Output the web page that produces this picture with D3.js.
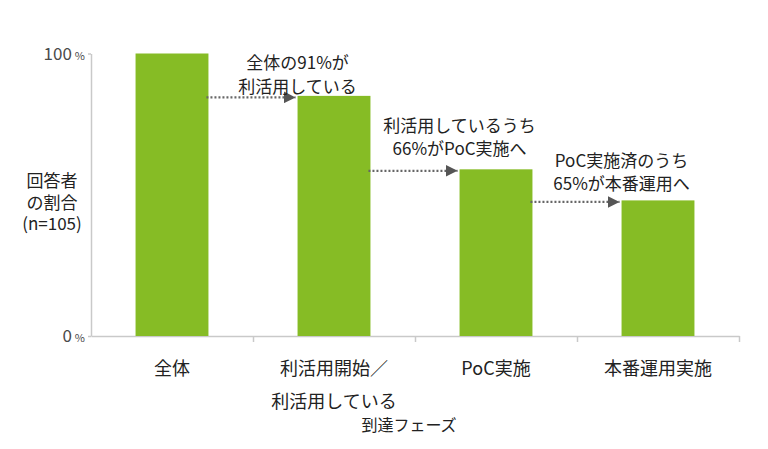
<!DOCTYPE html>
<html>
<head>
<meta charset="utf-8">
<script src="https://cdn.jsdelivr.net/npm/d3@7"></script>
<style>
  body { margin: 0; background: #fff; }
  text { font-family: "Noto Sans CJK JP", "Noto Sans", sans-serif; }
</style>
</head>
<body>
<div id="chart"></div>
<script>
// chart data (bar heights as drawn in the original)
const categories = ["全体", "利活用開始／\n利活用している", "PoC実施", "本番運用実施"];
const shares = [100, 85, 59, 48];
const yTicks = [0, 100];
const notes = [
  ["全体の91%が", "利活用している"],
  ["利活用しているうち", "66%がPoC実施へ"],
  ["PoC実施済のうち", "65%が本番運用へ"]
];
const yTitle = ["回答者", "の割合", "(n=105)"];
const xTitle = "到達フェーズ";

const W = 768, H = 449;
const green = "#86bc25";

const svg = d3.select("#chart").append("svg").attr("width", W).attr("height", H);

const x = d3.scaleBand().domain(categories).range([91, 739]).paddingInner(0).paddingOuter(0);
const xEdge = d3.scaleLinear().domain([0, categories.length]).range([91, 739]);
const y = d3.scaleLinear().domain([0, 100]).range([336, 53.5]);

const barW = x.bandwidth() * 0.45;
const barX = d => x(d) + (x.bandwidth() - barW) / 2;

// x axis: ticks at category boundaries
const gx = svg.append("g").attr("transform", `translate(0,${y(0)})`)
  .call(d3.axisBottom(xEdge).ticks(categories.length).tickSize(6).tickSizeOuter(0).tickFormat(""));
gx.select(".domain").attr("stroke", "#c9c9c9").attr("stroke-width", 1.5);
gx.selectAll(".tick line").attr("stroke", "#c9c9c9").attr("stroke-width", 1.5);
gx.selectAll(".tick").filter(d => d === 0).remove();

// y axis
const gy = svg.append("g").attr("transform", `translate(${xEdge(0)},0)`)
  .call(d3.axisLeft(y).tickValues(yTicks).tickSize(3).tickSizeOuter(0).tickPadding(3));
gy.select(".domain").attr("stroke", "#c9c9c9").attr("stroke-width", 1.5);
gy.selectAll(".tick line").attr("stroke", "#c9c9c9").attr("stroke-width", 1.5);
gy.selectAll(".tick text")
  .attr("font-size", 17).attr("fill", "#4a4a4a").attr("dy", "0.35em")
  .append("tspan").attr("font-size", 11).attr("dx", 3).text("%");

// bars
svg.selectAll("rect.bar").data(categories).enter().append("rect")
  .attr("class", "bar")
  .attr("x", d => barX(d))
  .attr("y", (d, i) => y(shares[i]))
  .attr("width", barW)
  .attr("height", (d, i) => y(0) - y(shares[i]))
  .attr("fill", green);

// category labels
svg.selectAll("text.cat").data(categories).enter().append("text")
  .attr("class", "cat")
  .attr("text-anchor", "middle")
  .attr("font-size", 18)
  .attr("fill", "#222")
  .attr("transform", d => `translate(${x(d) + x.bandwidth() / 2},375)`)
  .each(function(d) {
    d.split("\n").forEach((line, k) => {
      d3.select(this).append("tspan").attr("x", 0).attr("y", k * 33).text(line);
    });
  });

svg.append("text")
  .attr("x", xEdge(2) - 6).attr("y", 431)
  .attr("text-anchor", "middle").attr("font-size", 16).attr("fill", "#222")
  .text(xTitle);

// y title
svg.append("text")
  .attr("text-anchor", "middle").attr("font-size", 17).attr("fill", "#222")
  .selectAll("tspan").data(yTitle).enter().append("tspan")
  .attr("x", 52).attr("y", (d, i) => 187 + i * 21.5)
  .text(d => d);

// dotted arrows between bars
const defs = svg.append("defs");
defs.append("marker")
  .attr("id", "head").attr("viewBox", "0 0 10 10")
  .attr("refX", 10).attr("refY", 5)
  .attr("markerWidth", 12).attr("markerHeight", 12)
  .attr("markerUnits", "userSpaceOnUse")
  .attr("orient", "auto")
  .append("path").attr("d", "M0,0L10,5L0,10Z").attr("fill", "#555");

const gaps = [3, 14, 10];
notes.forEach((lines, i) => {
  const from = categories[i], to = categories[i + 1];
  const ay = y(shares[i + 1]) + 1.5;
  svg.append("line")
    .attr("x1", barX(from) + barW - 2).attr("x2", barX(to) - 2)
    .attr("y1", ay).attr("y2", ay)
    .attr("stroke", "#666").attr("stroke-width", 2.2)
    .attr("stroke-dasharray", "2,2")
    .attr("marker-end", "url(#head)");

  const t = svg.append("text")
    .attr("text-anchor", "middle").attr("font-size", 17).attr("fill", "#222");
  lines.forEach((line, k) => {
    t.append("tspan")
      .attr("x", barX(to))
      .attr("y", y(shares[i + 1]) - gaps[i] - (lines.length - 1 - k) * 23.5)
      .text(line);
  });
});
</script>
</body>
</html>
